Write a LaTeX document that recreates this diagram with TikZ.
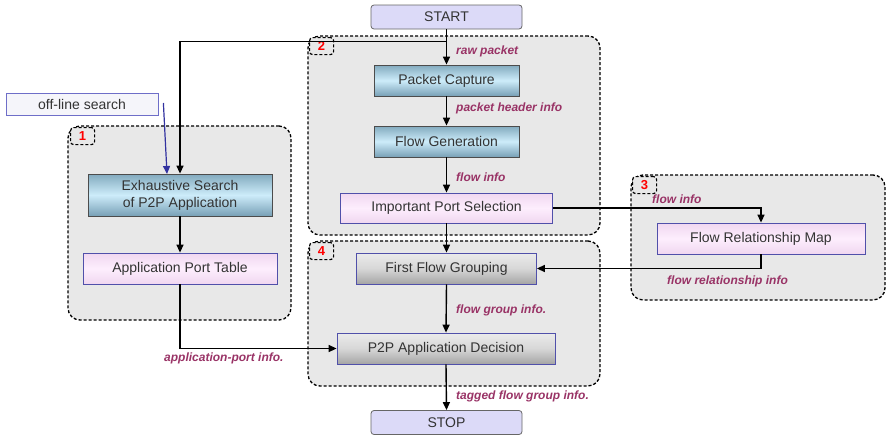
\documentclass[tikz,border=0pt]{standalone}
\usepackage{fontspec}
\setmainfont{Liberation Sans}
\usetikzlibrary{arrows.meta,calc}
\definecolor{txt}{RGB}{51,51,51}
\definecolor{lbl}{RGB}{153,51,102}
\definecolor{grpfill}{RGB}{232,232,232}
\definecolor{boxborder}{RGB}{80,80,170}
\definecolor{termfill}{RGB}{220,218,248}
\definecolor{blueTop}{RGB}{130,170,190}
\definecolor{blueMid}{RGB}{205,236,250}
\definecolor{blueBot}{RGB}{120,160,182}
\definecolor{pinkTop}{RGB}{240,215,240}
\definecolor{pinkMid}{RGB}{253,238,253}
\definecolor{grayTop}{RGB}{235,235,235}
\definecolor{grayMid}{RGB}{215,215,215}
\definecolor{grayBot}{RGB}{165,165,165}
\definecolor{offfill}{RGB}{245,245,250}
\definecolor{offborder}{RGB}{110,110,200}
\definecolor{bluearrow}{RGB}{50,50,160}
\tikzset{
  x=1pt, y=-1pt,
  base/.style={inner sep=0pt, text=txt, font=\fontsize{14}{17}\selectfont, align=center},
  termbox/.style={base, draw=black!60, line width=0.8pt, fill=termfill, rounded corners=3pt, minimum width=151pt, minimum height=24pt},
  bluebox/.style={base, draw=black!70, line width=0.8pt, top color=blueTop, bottom color=blueBot, middle color=blueMid},
  pinkbox/.style={base, draw=boxborder, line width=0.8pt, top color=pinkTop, bottom color=pinkTop, middle color=pinkMid},
  graybox/.style={base, draw=boxborder, line width=0.8pt, top color=grayTop, bottom color=grayBot, middle color=grayMid},
  group/.style={draw=black, fill=grpfill, dash pattern=on 3pt off 2pt, line width=1.3pt, rounded corners=12pt, inner sep=0pt},
  numbox/.style={draw=black, fill=grpfill, dash pattern=on 3pt off 2pt, line width=1.2pt, rounded corners=3pt, minimum width=24pt, minimum height=17pt, inner sep=0pt, text=red, font=\fontsize{13}{13}\selectfont\bfseries},
  infolbl/.style={anchor=west, inner sep=0pt, text=lbl, font=\fontsize{12}{12}\selectfont\bfseries\itshape},
  arr/.style={draw=black, line width=1.4pt, -{Triangle[length=8pt,width=7pt]}},
}
\begin{document}
\begin{tikzpicture}
\useasboundingbox (0,0) rectangle (886,439);
% groups
\node[group, minimum width=223pt, minimum height=194pt] (g1) at (179.5,223) {};
\node[group, minimum width=292pt, minimum height=199pt] (g2) at (454,135.5) {};
\node[group, minimum width=254pt, minimum height=125pt] (g3) at (758,237.5) {};
\node[group, minimum width=292pt, minimum height=145pt] (g4) at (454,313.5) {};
\node[numbox, anchor=north west] (n1) at (70,127) {1};
\node[numbox, anchor=north west] (n2) at (309,37) {2};
\node[numbox, anchor=north west] (n3) at (632,176) {3};
\node[numbox, anchor=north west] (n4) at (309,242) {4};
% terminals
\node[termbox] (start) at (446.5,17) {START};
\node[termbox] (stop) at (446.5,422.5) {STOP};
% boxes
\node[bluebox, minimum width=145pt, minimum height=31pt] (pc) at (446.5,80.5) {Packet Capture};
\node[bluebox, minimum width=145pt, minimum height=31pt] (fg) at (446.5,141.5) {Flow Generation};
\node[pinkbox, minimum width=212pt, minimum height=30pt] (ips) at (446.5,208) {Important Port Selection};
\node[graybox, minimum width=180pt, minimum height=31pt] (ffg) at (446.5,268.5) {First Flow Grouping};
\node[graybox, minimum width=218pt, minimum height=31pt] (dec) at (446,348.5) {P2P Application Decision};
\node[bluebox, minimum width=184pt, minimum height=42pt] (ex) at (180,195) {Exhaustive Search\\of P2P Application};
\node[pinkbox, minimum width=194pt, minimum height=31pt] (apt) at (180,268.5) {Application Port Table};
\node[pinkbox, minimum width=208pt, minimum height=31pt] (frm) at (761,238.5) {Flow Relationship Map};
\node[base, draw=offborder, line width=0.8pt, fill=offfill, minimum width=152pt, minimum height=22pt] (off) at (82,104) {off-line search};
% connectors
\coordinate (j1) at (446.5,41.5);
\draw[line width=1.4pt] (start.south) -- (j1);
\draw[arr] (j1) -- (pc.north);
\draw[arr] (j1) -| (ex.north);
\draw[arr] (pc.south) -- (fg.north);
\draw[arr] (fg.south) -- (ips.north);
\draw[arr] (ips.south) -- (ffg.north);
\draw[arr] (ffg.south) -- (dec.north);
\draw[arr] (dec.south) -- (stop.north);
\draw[arr] (ex.south) -- (apt.north);
\draw[arr] (apt.south) |- (dec.west);
\draw[arr] (ips.east) -| (frm.north);
\draw[arr] (frm.south) |- (ffg.east);
\coordinate (os) at ($(off.east)+(5,-1)$);
\draw[draw=bluearrow, line width=1.2pt, -{Triangle[length=8pt,width=7pt]}] (os) -- (167,174);
% labels
\node[infolbl] (l1) at (456,51) {raw packet};
\node[infolbl] (l2) at (456,108) {packet header info};
\node[infolbl] (l3) at (456,177) {flow info};
\node[infolbl] (l4) at (456,310) {flow group info.};
\node[infolbl] (l5) at (456,396) {tagged flow group info.};
\node[infolbl] (l6) at (652,199.5) {flow info};
\node[infolbl] (l7) at (667,281) {flow relationship info};
\node[infolbl] (l8) at (164,358) {application-port info.};
\end{tikzpicture}
\end{document}
